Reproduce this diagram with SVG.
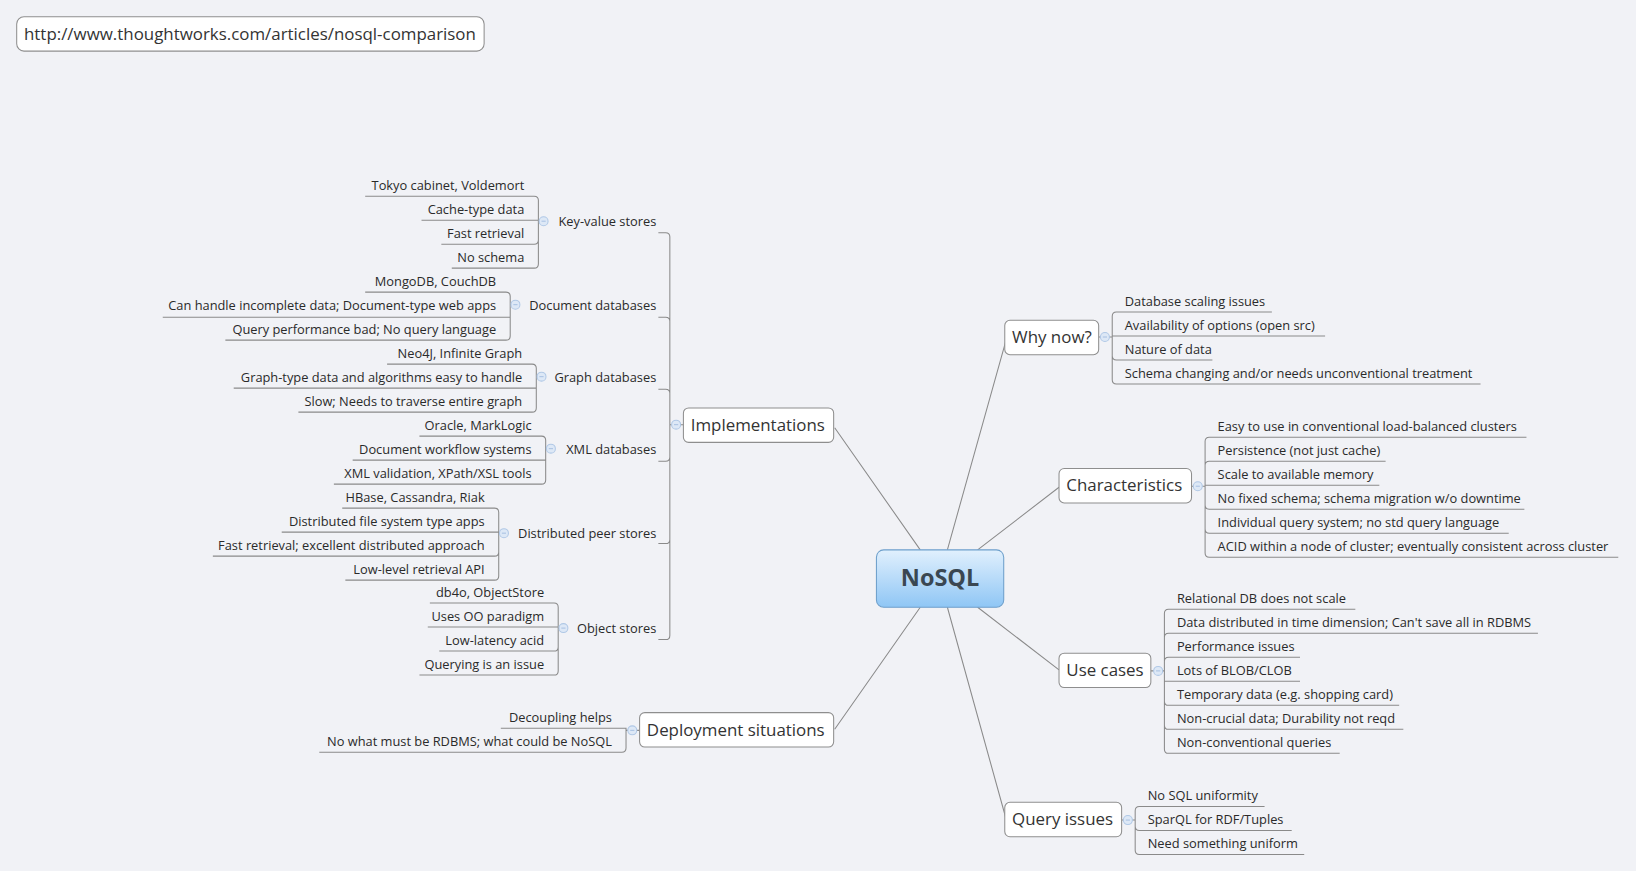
<svg xmlns="http://www.w3.org/2000/svg" width="1636" height="871" viewBox="0 0 1636 871">
<defs>
<linearGradient id="cg" x1="0" y1="0" x2="0" y2="1">
<stop offset="0" stop-color="#e1f0fd"/>
<stop offset="1" stop-color="#8fc6f5"/>
</linearGradient>
<style>
text{font-family:"Open Sans","DejaVu Sans",sans-serif;fill:#2a2a2a}
.lf{font-size:12.3px;transform:translateY(1px)}
.lf.l{text-anchor:end}
.tp{font-size:16.2px;fill:#333}
.ln{fill:none;stroke:#8a8a8a;stroke-width:1}
.box{fill:#ffffff;stroke:#8e8e8e;stroke-width:1}
.tg circle{fill:#dde8f6;stroke:#b0c8e6;stroke-width:1}
.tg path{stroke:#a9c1e2;stroke-width:1}
.ctr{font-size:22.5px;font-weight:bold;fill:#3a4752;text-anchor:middle}
</style>
</defs>
<rect width="1636" height="871" fill="#f1f2f6"/>
<g transform="scale(1.04337)">
<g id="url">
<rect class="box" x="16" y="16" width="448" height="33" rx="7"/>
<text class="tp" x="23" y="38">http://www.thoughtworks.com/articles/nosql-comparison</text>
</g>
<g id="connectors">
<path class="ln" d="M800 410 L882 527 M882 582 L800 699 M908 527 L964 327 M937 527 L1015 467 M937 582 L1015 642 M908 582 L964 784"/>
<path class="ln" d="M655 407 H642 V227 Q642 223 638 223 H631 M642 407 V308 Q642 304 638 304 H631 M642 407 V377 Q642 373 638 373 H631 M642 407 V438 Q642 442 638 442 H631 M642 407 V517 Q642 521 638 521 H631 M642 407 V609 Q642 613 638 613 H631"/>
<path class="ln" d="M522 212 H516 V192 Q516 188 512 188 H350 M516 212 V211 H404 M516 212 V230 Q516 234 512 234 H423 M516 212 V253 Q516 257 512 257 H433"/>
<path class="ln" d="M495 292 H489 V284 Q489 280 485 280 H350 M489 292 V304 H156 M489 292 V322 Q489 326 485 326 H216"/>
<path class="ln" d="M520 361 H514 V353 Q514 349 510 349 H371 M514 361 V372 H224 M514 361 V391 Q514 395 510 395 H286"/>
<path class="ln" d="M529 430 H523 V422 Q523 418 519 418 H402 M523 430 V441 H338 M523 430 V460 Q523 464 519 464 H320"/>
<path class="ln" d="M484 511 H478 V491 Q478 487 474 487 H328 M478 511 V510 H270 M478 511 V529 Q478 533 474 533 H204 M478 511 V552 Q478 556 474 556 H331"/>
<path class="ln" d="M541 602 H535 V582 Q535 578 531 578 H412 M535 602 V601 H410 M535 602 V620 Q535 624 531 624 H421 M535 602 V643 Q535 647 531 647 H402"/>
<path class="ln" d="M613 700 H600 V698 H480 M600 700 V717 Q600 721 596 721 H306"/>
<path class="ln" d="M1053 323 H1066 V303 Q1066 299 1070 299 H1219 M1066 323 V322 H1270 M1066 323 V341 Q1066 345 1070 345 H1162 M1066 323 V364 Q1066 368 1070 368 H1419"/>
<path class="ln" d="M1142 466 H1155 V423 Q1155 419 1159 419 H1463 M1155 466 V446 Q1155 442 1159 442 H1328 M1155 466 V465 H1322 M1155 466 V484 Q1155 488 1159 488 H1461 M1155 466 V507 Q1155 511 1159 511 H1446 M1155 466 V530 Q1155 534 1159 534 H1551"/>
<path class="ln" d="M1103 643 H1116 V588 Q1116 584 1120 584 H1299 M1116 643 V611 Q1116 607 1120 607 H1474 M1116 643 V634 Q1116 630 1120 630 H1246 M1116 643 V653 H1246 M1116 643 V672 Q1116 676 1120 676 H1341 M1116 643 V695 Q1116 699 1120 699 H1345 M1116 643 V718 Q1116 722 1120 722 H1284"/>
<path class="ln" d="M1075 786 H1088 V777 Q1088 773 1092 773 H1212 M1088 786 V792 Q1088 796 1092 796 H1238 M1088 786 V815 Q1088 819 1092 819 H1250"/>
</g>
<g id="nosql">
<rect x="840" y="527" width="122" height="55" rx="7" fill="url(#cg)" stroke="#6d9fcb" stroke-width="1"/>
<text class="ctr" x="901" y="562">NoSQL</text>
</g>
<g id="implementations">
<rect class="box" x="655" y="391" width="144" height="33" rx="5"/>
<text class="tp" x="662" y="413">Implementations</text>
<g class="tg"><circle cx="648" cy="407" r="4.3"/><path d="M646 407 H650"/></g>
</g>
<g id="key-value-stores">
<text class="lf l" x="629" y="216">Key-value stores</text>
<g class="tg"><circle cx="521" cy="212" r="4.3"/><path d="M519 212 H523"/></g>
<text class="lf l" x="502.5" y="181">Tokyo cabinet, Voldemort</text>
<text class="lf l" x="502.5" y="204">Cache-type data</text>
<text class="lf l" x="502.5" y="227">Fast retrieval</text>
<text class="lf l" x="502.5" y="250">No schema</text>
</g>
<g id="document-databases">
<text class="lf l" x="629" y="296">Document databases</text>
<g class="tg"><circle cx="494" cy="292" r="4.3"/><path d="M492 292 H496"/></g>
<text class="lf l" x="475.5" y="273">MongoDB, CouchDB</text>
<text class="lf l" x="475.5" y="296">Can handle incomplete data; Document-type web apps</text>
<text class="lf l" x="475.5" y="319">Query performance bad; No query language</text>
</g>
<g id="graph-databases">
<text class="lf l" x="629" y="365">Graph databases</text>
<g class="tg"><circle cx="519" cy="361" r="4.3"/><path d="M517 361 H521"/></g>
<text class="lf l" x="500.5" y="342">Neo4J, Infinite Graph</text>
<text class="lf l" x="500.5" y="365">Graph-type data and algorithms easy to handle</text>
<text class="lf l" x="500.5" y="388">Slow; Needs to traverse entire graph</text>
</g>
<g id="xml-databases">
<text class="lf l" x="629" y="434">XML databases</text>
<g class="tg"><circle cx="528" cy="430" r="4.3"/><path d="M526 430 H530"/></g>
<text class="lf l" x="509.5" y="411">Oracle, MarkLogic</text>
<text class="lf l" x="509.5" y="434">Document workflow systems</text>
<text class="lf l" x="509.5" y="457">XML validation, XPath/XSL tools</text>
</g>
<g id="distributed-peer-stores">
<text class="lf l" x="629" y="515">Distributed peer stores</text>
<g class="tg"><circle cx="483" cy="511" r="4.3"/><path d="M481 511 H485"/></g>
<text class="lf l" x="464.5" y="480">HBase, Cassandra, Riak</text>
<text class="lf l" x="464.5" y="503">Distributed file system type apps</text>
<text class="lf l" x="464.5" y="526">Fast retrieval; excellent distributed approach</text>
<text class="lf l" x="464.5" y="549">Low-level retrieval API</text>
</g>
<g id="object-stores">
<text class="lf l" x="629" y="606">Object stores</text>
<g class="tg"><circle cx="540" cy="602" r="4.3"/><path d="M538 602 H542"/></g>
<text class="lf l" x="521.5" y="571">db4o, ObjectStore</text>
<text class="lf l" x="521.5" y="594">Uses OO paradigm</text>
<text class="lf l" x="521.5" y="617">Low-latency acid</text>
<text class="lf l" x="521.5" y="640">Querying is an issue</text>
</g>
<g id="deployment-situations">
<rect class="box" x="613" y="683" width="186" height="33" rx="5"/>
<text class="tp" x="620" y="705">Deployment situations</text>
<g class="tg"><circle cx="606" cy="700" r="4.3"/><path d="M604 700 H608"/></g>
<text class="lf l" x="586.5" y="691">Decoupling helps</text>
<text class="lf l" x="586.5" y="714">No what must be RDBMS; what could be NoSQL</text>
</g>
<g id="why-now">
<rect class="box" x="963" y="307" width="90" height="33" rx="5"/>
<text class="tp" x="970" y="329">Why now?</text>
<g class="tg"><circle cx="1059" cy="323" r="4.3"/><path d="M1057 323 H1061"/></g>
<text class="lf" x="1078" y="292">Database scaling issues</text>
<text class="lf" x="1078" y="315">Availability of options (open src)</text>
<text class="lf" x="1078" y="338">Nature of data</text>
<text class="lf" x="1078" y="361">Schema changing and/or needs unconventional treatment</text>
</g>
<g id="characteristics">
<rect class="box" x="1015" y="449" width="127" height="33" rx="5"/>
<text class="tp" x="1022" y="471">Characteristics</text>
<g class="tg"><circle cx="1148" cy="466" r="4.3"/><path d="M1146 466 H1150"/></g>
<text class="lf" x="1167" y="412">Easy to use in conventional load-balanced clusters</text>
<text class="lf" x="1167" y="435">Persistence (not just cache)</text>
<text class="lf" x="1167" y="458">Scale to available memory</text>
<text class="lf" x="1167" y="481">No fixed schema; schema migration w/o downtime</text>
<text class="lf" x="1167" y="504">Individual query system; no std query language</text>
<text class="lf" x="1167" y="527">ACID within a node of cluster; eventually consistent across cluster</text>
</g>
<g id="use-cases">
<rect class="box" x="1015" y="626" width="88" height="33" rx="5"/>
<text class="tp" x="1022" y="648">Use cases</text>
<g class="tg"><circle cx="1110" cy="643" r="4.3"/><path d="M1108 643 H1112"/></g>
<text class="lf" x="1128" y="577">Relational DB does not scale</text>
<text class="lf" x="1128" y="600">Data distributed in time dimension; Can't save all in RDBMS</text>
<text class="lf" x="1128" y="623">Performance issues</text>
<text class="lf" x="1128" y="646">Lots of BLOB/CLOB</text>
<text class="lf" x="1128" y="669">Temporary data (e.g. shopping card)</text>
<text class="lf" x="1128" y="692">Non-crucial data; Durability not reqd</text>
<text class="lf" x="1128" y="715">Non-conventional queries</text>
</g>
<g id="query-issues">
<rect class="box" x="963" y="769" width="112" height="33" rx="5"/>
<text class="tp" x="970" y="791">Query issues</text>
<g class="tg"><circle cx="1081" cy="786" r="4.3"/><path d="M1079 786 H1083"/></g>
<text class="lf" x="1100" y="766">No SQL uniformity</text>
<text class="lf" x="1100" y="789">SparQL for RDF/Tuples</text>
<text class="lf" x="1100" y="812">Need something uniform</text>
</g>
</g>
</svg>
